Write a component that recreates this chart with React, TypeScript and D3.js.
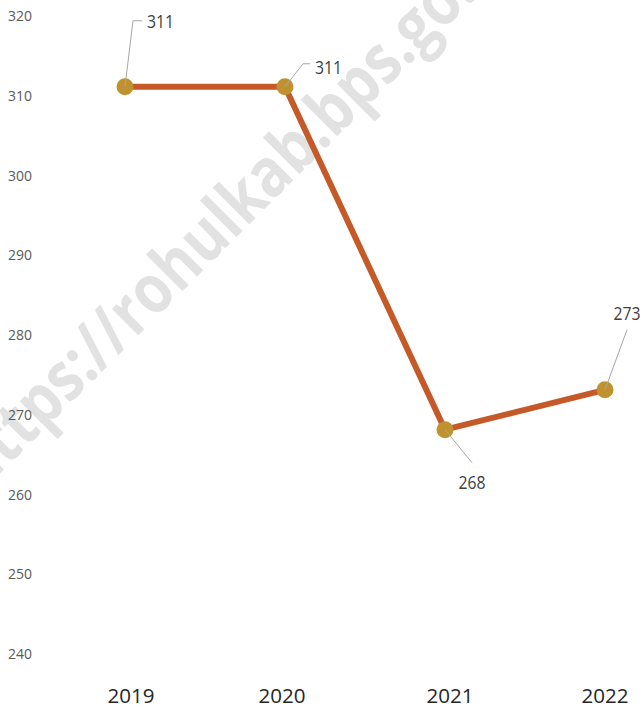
import React, { useRef, useEffect } from "react";
import * as d3 from "d3";

const years = ["2019", "2020", "2021", "2022"];
const values = [311, 311, 268, 273];
const yTicks = [240, 250, 260, 270, 280, 290, 300, 310, 320];
const watermark = "https://rohulkab.bps.go.id";

// leader line bend and label offsets, relative to each point
const leaders = [
  { bend: [8, -66], end: [17, -66], label: [22, -66], anchor: "start" },
  { bend: [18, -23], end: [25, -23], label: [30, -20], anchor: "start" },
  { bend: [27, 33], end: [27, 33], label: [27, 52], anchor: "middle" },
  { bend: [22, -60], end: [22, -60], label: [22, -77], anchor: "middle" },
];

const W = 643;
const H = 707;

const App = () => {
  const svgRef = useRef<SVGSVGElement>(null);

  useEffect(() => {
    const svg = d3.select(svgRef.current);
    svg.selectAll("*").remove();

    const x = d3.scalePoint<string>().domain(years).range([125, 605]);
    const y = d3.scaleLinear().domain([240, 320]).range([653, 15]);

    // watermark
    svg
      .append("text")
      .attr("transform", "translate(230,206) rotate(-45)")
      .attr("text-anchor", "middle")
      .attr("dominant-baseline", "central")
      .attr("font-family", "Open Sans, sans-serif")
      .attr("font-weight", 700)
      .attr("font-size", 68)
      .attr("textLength", 760)
      .attr("lengthAdjust", "spacingAndGlyphs")
      .attr("fill", "#e2e2e2")
      .text(watermark);

    // y axis labels
    svg
      .append("g")
      .selectAll("text")
      .data(yTicks)
      .join("text")
      .attr("x", 8)
      .attr("y", (d) => y(d))
      .attr("dominant-baseline", "central")
      .attr("font-family", "Open Sans, sans-serif")
      .attr("font-size", 15)
      .attr("textLength", 24)
      .attr("lengthAdjust", "spacingAndGlyphs")
      .attr("fill", "#595959")
      .text((d) => d);

    // x axis labels
    svg
      .append("g")
      .selectAll("text")
      .data(years)
      .join("text")
      .attr("x", (d) => x(d)! + (d === "2019" ? 6 : d === "2020" ? -3 : d === "2021" ? 5 : 0))
      .attr("y", 695)
      .attr("text-anchor", "middle")
      .attr("dominant-baseline", "central")
      .attr("font-family", "Open Sans, sans-serif")
      .attr("font-size", 20)
      .attr("textLength", 47)
      .attr("lengthAdjust", "spacingAndGlyphs")
      .attr("fill", "#262626")
      .text((d) => d);

    const pts = years.map((yr, i) => [x(yr)!, y(values[i])] as [number, number]);

    // line
    svg
      .append("path")
      .datum(pts)
      .attr("d", d3.line())
      .attr("fill", "none")
      .attr("stroke", "#C55A28")
      .attr("stroke-width", 6)
      .attr("stroke-linejoin", "round");

    // markers
    svg
      .append("g")
      .selectAll("circle")
      .data(pts)
      .join("circle")
      .attr("cx", (d) => d[0])
      .attr("cy", (d) => d[1])
      .attr("r", 8.5)
      .attr("fill", "#C0922F");

    // leader lines + labels
    const lab = svg.append("g");
    pts.forEach((p, i) => {
      const l = leaders[i];
      lab
        .append("polyline")
        .attr(
          "points",
          [p, [p[0] + l.bend[0], p[1] + l.bend[1]], [p[0] + l.end[0], p[1] + l.end[1]]]
            .map((q) => q.join(","))
            .join(" ")
        )
        .attr("fill", "none")
        .attr("stroke", "#a6a6a6")
        .attr("stroke-width", 1);
      lab
        .append("text")
        .attr("x", p[0] + l.label[0])
        .attr("y", p[1] + l.label[1])
        .attr("text-anchor", l.anchor)
        .attr("dominant-baseline", "central")
        .attr("font-family", "Open Sans, sans-serif")
        .attr("font-size", 18)
        .attr("textLength", 27)
        .attr("lengthAdjust", "spacingAndGlyphs")
        .attr("fill", "#404040")
        .text(values[i]);
    });
  }, []);

  return (
    <svg
      ref={svgRef}
      width={W}
      height={H}
      style={{ position: "absolute", left: 0, top: 0, background: "#fff" }}
    />
  );
};

export default App;
